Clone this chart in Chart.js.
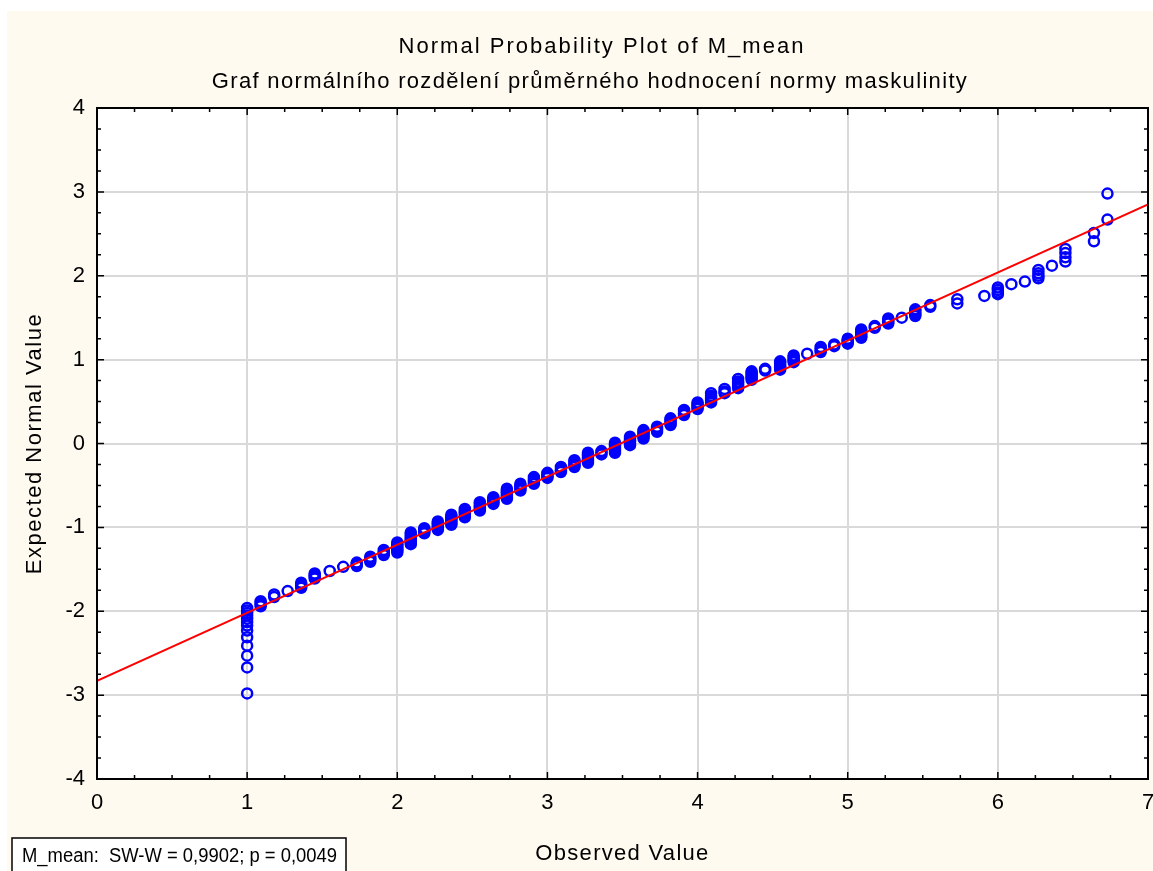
<!DOCTYPE html>
<html>
<head>
<meta charset="utf-8">
<title>Normal Probability Plot of M_mean</title>
<script src="https://cdn.jsdelivr.net/npm/chart.js@4"></script>
<style>
  html, body { margin: 0; padding: 0; background: #fff; }
  #wrap { width: 1153px; height: 871px; }
</style>
</head>
<body>
<div id="wrap"><canvas id="npp" width="1153" height="871"></canvas></div>
<script>
// Pozorované hodnoty M_mean (kroky po 1/11) a očekávané normální hodnoty
const observed = [
  1.00, 1.09, 1.18, 1.27, 1.36, 1.45, 1.55, 1.64, 1.73, 1.82,
  1.91, 2.00, 2.09, 2.18, 2.27, 2.36, 2.45, 2.55, 2.64, 2.73,
  2.82, 2.91, 3.00, 3.09, 3.18, 3.27, 3.36, 3.45, 3.55, 3.64,
  3.73, 3.82, 3.91, 4.00, 4.09, 4.18, 4.27, 4.36, 4.45, 4.55,
  4.64, 4.73, 4.82, 4.91, 5.00, 5.09, 5.18, 5.27, 5.36, 5.45,
  5.55, 5.73, 5.91, 6.00, 6.09, 6.18, 6.27, 6.36, 6.45, 6.64,
  6.73
];
const expected = [
  [-1.96, -1.99, -2.02, -2.05, -2.09, -2.13, -2.17, -2.23, -2.31, -2.41, -2.53, -2.67, -2.98],
  [-1.88, -1.90, -1.92, -1.94],
  [-1.80, -1.83],
  [-1.76],
  [-1.66, -1.68, -1.70, -1.72],
  [-1.55, -1.57, -1.59, -1.61],
  [-1.52],
  [-1.47],
  [-1.42, -1.44, -1.46],
  [-1.35, -1.37, -1.39, -1.41],
  [-1.27, -1.29, -1.31, -1.33],
  [-1.18, -1.20, -1.22, -1.24, -1.26, -1.28, -1.30],
  [-1.06, -1.08, -1.10, -1.12, -1.14, -1.16, -1.18, -1.20],
  [-1.01, -1.03, -1.05, -1.07],
  [-0.93, -0.95, -0.97, -0.99, -1.01, -1.03],
  [-0.85, -0.87, -0.89, -0.91, -0.93, -0.95, -0.97],
  [-0.78, -0.80, -0.82, -0.84, -0.86, -0.88],
  [-0.70, -0.72, -0.74, -0.76, -0.78, -0.80],
  [-0.64, -0.66, -0.68, -0.70, -0.72],
  [-0.54, -0.56, -0.58, -0.60, -0.62, -0.64, -0.66],
  [-0.48, -0.50, -0.52, -0.54, -0.56],
  [-0.40, -0.42, -0.44, -0.46, -0.48],
  [-0.35, -0.37, -0.39, -0.41],
  [-0.28, -0.30, -0.32, -0.34],
  [-0.20, -0.22, -0.24, -0.26, -0.28],
  [-0.11, -0.13, -0.15, -0.17, -0.19, -0.21, -0.23],
  [-0.09, -0.11, -0.13],
  [0.01, -0.01, -0.03, -0.05, -0.07, -0.09, -0.11],
  [0.08, 0.06, 0.04, 0.02, 0.00, -0.02],
  [0.16, 0.14, 0.12, 0.10, 0.08, 0.06],
  [0.20, 0.18, 0.16, 0.14],
  [0.22, 0.24, 0.26, 0.28, 0.30],
  [0.34, 0.36, 0.38, 0.40],
  [0.41, 0.43, 0.45, 0.47, 0.49],
  [0.49, 0.51, 0.53, 0.55, 0.57, 0.60],
  [0.60, 0.62, 0.65],
  [0.66, 0.68, 0.70, 0.72, 0.74, 0.77],
  [0.76, 0.78, 0.80, 0.82, 0.84, 0.86],
  [0.87, 0.89],
  [0.88, 0.90, 0.92, 0.94, 0.96, 0.98],
  [0.97, 0.99, 1.01, 1.03, 1.05],
  [1.07],
  [1.09, 1.11, 1.13, 1.15],
  [1.16, 1.18],
  [1.19, 1.21, 1.23, 1.25],
  [1.26, 1.28, 1.30, 1.32, 1.34, 1.36],
  [1.38, 1.40],
  [1.43, 1.45, 1.47, 1.49],
  [1.50],
  [1.52, 1.54, 1.56, 1.58, 1.60],
  [1.63, 1.65],
  [1.67, 1.72],
  [1.76],
  [1.78, 1.80, 1.83, 1.86],
  [1.90],
  [1.93],
  [1.97, 2.00, 2.03, 2.07],
  [2.12],
  [2.17, 2.22, 2.27, 2.32],
  [2.41, 2.51],
  [2.67, 2.98]
];

// proložená přímka
const fitX = [0, 7];
const fitY = [-2.83, 2.85];

const xTicks = [0, 1, 2, 3, 4, 5, 6, 7];
const yTicks = [-4, -3, -2, -1, 0, 1, 2, 3, 4];
const MINOR_STEP = 0.25;

const titleLines = [
  "Normal Probability Plot of M_mean",
  "Graf normálního rozdělení průměrného hodnocení normy maskulinity"
];
const xTitle = "Observed Value";
const yTitle = "Expected Normal Value";
const statText = "M_mean:  SW-W = 0,9902; p = 0,0049";

const FONT = "'Liberation Sans', Arial, sans-serif";
const CREAM = "#fffaef";

const points = observed.flatMap((x, i) => expected[i].map(y => ({ x, y })));
const fitLine = fitX.map((x, i) => ({ x, y: fitY[i] }));

// text dorovnaný na šířku z předlohy (prostrkání nebo stlačení)
function spaced(ctx, text, x, y, width) {
  ctx.letterSpacing = "0px";
  const w = ctx.measureText(text).width;
  if (w >= width) {
    ctx.fillText(text, x, y, width);
    return;
  }
  ctx.letterSpacing = ((width - w) / (text.length - 1)) + "px";
  ctx.fillText(text, x, y);
  ctx.letterSpacing = "0px";
}

const background = {
  id: "background",
  beforeDraw(chart) {
    const { ctx, chartArea: a } = chart;
    ctx.save();
    ctx.fillStyle = "#fff";
    ctx.fillRect(0, 0, chart.width, chart.height);
    ctx.fillStyle = CREAM;
    ctx.fillRect(7, 11, chart.width - 7, chart.height - 11);
    ctx.fillStyle = "#fff";
    ctx.fillRect(a.left, a.top, a.right - a.left, a.bottom - a.top);
    ctx.restore();
  }
};

// rámeček + vnitřní značky os na všech čtyřech stranách
const innerTicks = {
  id: "innerTicks",
  afterDatasetsDraw(chart) {
    const { ctx, chartArea: a, scales: { x, y } } = chart;
    ctx.save();
    ctx.strokeStyle = "#000";
    ctx.lineWidth = 1.5;
    ctx.beginPath();
    for (let v = x.min; v <= x.max + 1e-9; v += MINOR_STEP) {
      const px = x.getPixelForValue(v);
      const len = Math.abs(v - Math.round(v)) < 1e-9 ? 7 : 4;
      ctx.moveTo(px, a.bottom); ctx.lineTo(px, a.bottom - len);
      ctx.moveTo(px, a.top); ctx.lineTo(px, a.top + len);
    }
    for (let v = y.min; v <= y.max + 1e-9; v += MINOR_STEP) {
      const py = y.getPixelForValue(v);
      const len = Math.abs(v - Math.round(v)) < 1e-9 ? 7 : 4;
      ctx.moveTo(a.left, py); ctx.lineTo(a.left + len, py);
      ctx.moveTo(a.right, py); ctx.lineTo(a.right - len, py);
    }
    ctx.stroke();
    ctx.lineWidth = 2;
    ctx.strokeRect(a.left, a.top, a.right - a.left, a.bottom - a.top);
    ctx.restore();
  }
};

const texts = {
  id: "texts",
  afterDraw(chart) {
    const { ctx, chartArea: a } = chart;
    ctx.save();
    ctx.fillStyle = "#000";
    ctx.font = "22px " + FONT;
    ctx.textAlign = "center";
    ctx.textBaseline = "alphabetic";
    spaced(ctx, titleLines[0], 602, 53, 405);
    spaced(ctx, titleLines[1], 590, 88, 755);
    spaced(ctx, xTitle, (a.left + a.right) / 2, 860, 173);

    ctx.save();
    ctx.translate(35, (a.top + a.bottom) / 2);
    ctx.rotate(-Math.PI / 2);
    ctx.textBaseline = "middle";
    spaced(ctx, yTitle, 0, 0, 260);
    ctx.restore();

    // rámeček se Shapiro-Wilkovým testem
    ctx.fillStyle = "#fff";
    ctx.fillRect(12, 838, 334, 40);
    ctx.strokeStyle = "#000";
    ctx.lineWidth = 1.5;
    ctx.strokeRect(12, 838, 334, 40);
    ctx.fillStyle = "#000";
    ctx.font = "20px " + FONT;
    ctx.textAlign = "left";
    spaced(ctx, statText, 22, 862, 315);
    ctx.restore();
  }
};

function noSidePadding(s) {
  s.paddingLeft = 0;
  s.paddingRight = 0;
}

new Chart(document.getElementById("npp"), {
  type: "scatter",
  data: {
    datasets: [
      {
        label: "fit",
        data: fitLine,
        showLine: true,
        borderColor: "#ff0000",
        borderWidth: 2,
        pointRadius: 0,
        order: 0
      },
      {
        label: "M_mean",
        data: points,
        pointStyle: "circle",
        pointRadius: 5,
        borderWidth: 2.5,
        borderColor: "#0000ff",
        backgroundColor: "rgba(0,0,0,0)",
        order: 1
      }
    ]
  },
  options: {
    responsive: false,
    animation: false,
    events: [],
    layout: { autoPadding: false, padding: { top: 108, right: 5, bottom: 0, left: 0 } },
    scales: {
      x: {
        type: "linear", min: 0, max: 7,
        afterBuildTicks: s => { s.ticks = xTicks.map(v => ({ value: v })); },
        afterFit: s => { s.height = 92; noSidePadding(s); },
        ticks: { color: "#000", padding: 11, font: { family: FONT, size: 22 } },
        grid: { color: "#d9d9d9", lineWidth: 2, drawTicks: false },
        border: { display: false }
      },
      y: {
        type: "linear", min: -4, max: 4,
        afterBuildTicks: s => { s.ticks = yTicks.map(v => ({ value: v })); },
        afterFit: s => { s.width = 97; s.paddingTop = 0; s.paddingBottom = 0; },
        ticks: { color: "#000", padding: 12, font: { family: FONT, size: 22 } },
        grid: { color: "#d9d9d9", lineWidth: 2, drawTicks: false },
        border: { display: false }
      }
    },
    plugins: {
      legend: { display: false },
      tooltip: { enabled: false },
      title: { display: false }
    }
  },
  plugins: [background, innerTicks, texts]
});
</script>
</body>
</html>
